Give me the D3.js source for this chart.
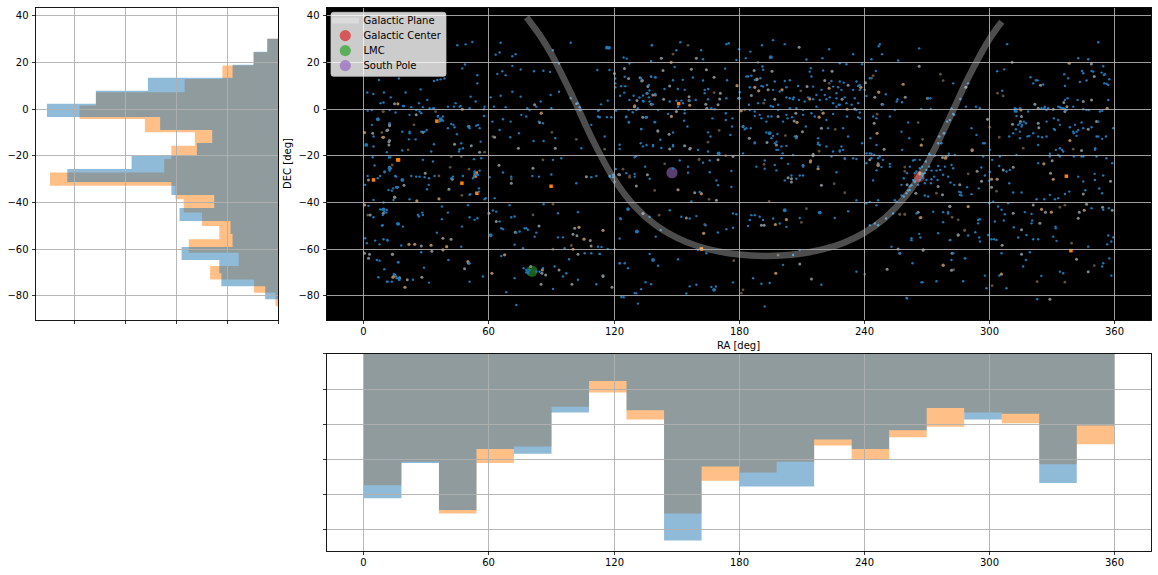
<!DOCTYPE html>
<html>
<head>
<meta charset="utf-8">
<script src="https://cdn.jsdelivr.net/npm/d3@7"></script>
<style>
  body { margin: 0; background: #fff; }
  text { font-family: "DejaVu Sans", sans-serif; font-size: 10px; }
</style>
</head>
<body>
<div id="graf"></div>
<script>
// RA histogram, 18 degree bins
const raBinWidth = 18
const raBlue = [123,93,133,81,85,50,23,48,159,96,113,113,73,81,65,46,56,51,110,61]
const raOrange = [112,92,136,93,79,45,33,56,136,108,101,92,78,90,71,62,50,59,94,77]

// DEC histogram, top bin first
const decBlueRange = [30.2, -81.4]
const decOrangeRange = [30.2, -84.4]
const decBlue = [11,24,45,128,179,227,116,65,80,144,207,105,63,97,47,45,95,58,56,13]
const decOrange = [11,25,55,92,179,195,131,82,105,112,224,101,93,75,58,88,39,67,24,3]

const raTicks = [0,60,120,180,240,300,360]
const decTicks = [40,20,0,-20,-40,-60,-80]
const decCountTicks = [0,50,100,150,200]
const raCountTicks = [0,30,60,90,120,150]

// Galactic plane
const planeRa = [78,85,90,100,110,120,130,140,150,160,170,180,192,200,210,220,230,240,250,260,270,280,290,300,306]
const planeDec = [39.4,30.9,23.5,5.6,-13.6,-29.9,-41.7,-49.7,-55,-58.6,-60.9,-62.3,-62.9,-62.7,-61.8,-60.1,-57.3,-53,-46.6,-37.2,-23.5,-5.6,13.6,29.9,37.5]

const markerNames = ["Galactic Center","LMC","South Pole"]
const markerRa = [266.4,80.6,147.8]
const markerDec = [-28.9,-69.4,-27.2]
const markerColors = ["#d62728","#2ca02c","#9467bd"]

// Sources, [ra, dec]
const bluePoints = [
[266.4,26.1],[308.6,27.9],[352.3,28.7],[342.7,21.9],[347.5,21.4],[354.7,18.4],[344.5,16.4],[349.1,16.4],[353.9,15.7],[355.5,15],[357.6,12.9],[343.5,11.7],[346.7,12.3],[336,15],[337.9,13.3],[336.3,10],[307.2,17.1],[303.8,16.3],[319.8,13.7],[322.4,12.4],[323.2,12.3],[321.1,11.1],[325.9,10.6],[356.3,10.9],[355.2,11.1],[306.2,7.9],[282.7,11.1],[289.9,11.1],[286.1,4.4],[288.8,1.1],[293.6,1.1],[295.5,.4],[281.9,.3],[267.4,.1],[272,.1],[270.7,4.7],[271.8,4.7],[258.2,3],[312.3,.4],[313.1,0],[314.7,.4],[318.7,-1],[325.1,.4],[326.4,.4],[327.5,-.3],[333.9,.9],[335.5,.4],[337.1,-.3],[345.1,0],[347.8,-.3],[353.1,-1],[354.2,-.7],[357.1,4],[342.4,4],[337.6,4.7],
[312.3,-1],[313.1,-2.9],[316.6,-5.3],[313.9,-6.7],[315.8,-6.7],[317.6,-6],[318.4,-11.7],[314.7,-9.6],[311.5,-10.3],[312.8,-8.6],[327.5,-5.3],[331,-3.9],[333.1,-4.6],[333.9,-6.7],[338.7,-7.7],[341.1,-6.7],[344.3,-5.7],[349.1,-7.7],[352.3,-5.3],[359.5,-8.1],[341.9,-9.6],[340.6,-10.3],[352.3,-11.7],[354.2,-12.7],[356,-11.7],[350.9,-16.7],[333.9,-16.7],[323.5,-15.3],[329.1,-19.1],[333.1,-19.6],[335.5,-18.1],[344.3,-20.3],[340.6,-20.3],[323.5,-23.1],[356.2,-21],[359,-23.1],[309.6,-11.7],[319.2,-11.4],[325.4,-12],[331,-8.4],[297.1,-14.6],[278.2,-10.3],[279.8,-5.3],[282.7,-2],[275.5,-14.6],[271.2,-19.1],[261.1,-5.7],[257.9,-9.6],[261.6,-12.4],[258.2,-17.4],[283.5,-19.6],[280.3,-19.9],
[304.8,-24.3],[301.4,-21.7],[309.9,-26],[308.3,-26.7],[296.2,-25],[300.3,-26.9],[297.9,-28.4],[300,-30.6],[309.6,-31.7],[295,-33.9],[291.5,-36.4],[289.4,-33.4],[285.6,-35.4],[286.7,-37],[283.2,-32.4],[281.4,-31.4],[277.9,-28.1],[274.7,-26.3],[275.5,-24.3],[272.3,-26.3],[271.2,-24.6],[269.9,-26],[266.7,-25.3],[264.3,-21.7],[268.3,-29.6],[269.9,-30.3],[272.3,-30],[269.1,-37],[270.7,-37.4],[261.9,-34.6],[311.5,-35.7],[315.5,-35.7],[322.7,-38.6],[326.4,-38.6],[329.1,-36.7],[336.3,-36.3],[346.1,-34.7],[350.6,-27.7],[352.8,-34],[354.2,-36],[345.1,-31],[342.7,-28.9],[338.4,-35.3],[333.1,-38.1],[331.5,-38.6],[354.7,-28.4],[350.7,-30.3],[301.9,-39.6],[300,-40.3],[264.3,-27.4],
[304.3,-41.7],[309.1,-40.3],[305.9,-43.1],[307.5,-45],[317.1,-44.1],[320.3,-44.9],[349.1,-42.4],[354.7,-43.1],[357.4,-42.4],[302.7,-48.1],[307,-47.7],[294.7,-48.9],[295.5,-47.1],[280.3,-44.1],[277.9,-44.1],[273.1,-43.9],[277.9,-48.4],[311.8,-50.6],[313.9,-55],[317.9,-53.9],[320.3,-48.9],[320.6,-47.7],[331.8,-50.3],[331.9,-51],[330.7,-54.6],[332.3,-56.4],[347.5,-58.9],[357.1,-54.1],[359.5,-54.9],[358.6,-56.7],[356.6,-57.9],[301.1,-55.7],[302.4,-55.7],[303.5,-56],[289.9,-54.1],[293.3,-52.7],[295.2,-55],[295.5,-56.7],[281.4,-56],[275.5,-53.1],[266.4,-53.4],[267,-55],[262.7,-55.3],[321.1,-55.7],[323.5,-55.7],
[305.9,-61.7],[319.5,-61.3],[317.6,-64.6],[316.3,-67.4],[325,-71.4],[333.9,-69.6],[335.5,-70.3],[354.2,-67.4],[354.7,-66],[357.6,-63.9],[358.6,-71.3],[260.6,-81.1],[323,-81.4],[288.5,-63.9],[263.2,-66],[267.5,-74.2],[274.7,-73.7],[287.5,-73.7],[297.9,-71.3],[298.7,-76.7],[308.3,-76.7],[257.1,-61.7],[281.9,-64.6],
[138.2,27.4],[151.8,28.7],[173.9,27.9],[175,28.3],[191,27.4],[196.3,29.6],[201.9,27.9],[223.2,25.7],[247.5,27.9],[247,27],[234.7,23.6],[248.6,23.6],[149.9,25.3],[161.8,25.3],[180,25.7],[185.4,24.7],[162.7,21.4],[178.7,21.1],[183.2,21.9],[212.3,21.3],[220,21.9],[239,19.3],[243.5,21.4],[256.3,20.9],[149.1,18.1],[173.3,17.4],[191.2,18.3],[214.4,17.6],[220.3,16.6],[228.3,19.7],[231.5,19.3],[245.6,16.4],[132.8,13.3],[137.7,14],[139.8,13.7],[148.3,12.4],[153,12.6],[157.8,13.6],[162.7,12.3],[174.2,12.4],[184.3,14],[185.9,14.4],[191.5,16.9],[201.9,12.1],[204.3,12.4],[213.9,16.1],[214.7,14],[224.3,12.1],[228.3,11.9],[230.2,11.4],[236.3,11.9],[242.7,13.3],[136.7,10.4],[144.2,8.7],[150.6,8.7],[165.2,8.7],[180.3,7.3],[185.1,9.4],[190.7,10],[193.4,10.4],[196.3,8.3],[202.7,9.4],[208.3,10],[215.5,9.7],[219.5,8.3],[227.5,9.4],[234.7,8.3],[237.1,10],[240.3,8.3],[133.9,5.9],[136.7,5.1],[139.8,6.6],[138.1,2.1],[134.2,3.3],[146.7,3.3],[149.9,3.7],[152.3,3.7],[156.3,3.7],[159.2,4],[153.9,-.3],[153.1,2.6],[150.7,1.1],[165.1,4.3],[163.5,8.3],[173.9,4.7],[166.7,.4],[168.3,0],[180.3,4.7],[184.7,1.9],[189.1,2.6],[192.3,4],[195.2,1.4],[198.7,1.9],[198.7,-.3],[202.7,5.1],[206.2,5.1],[213.1,5.1],[218.7,4],[221.9,4.3],[225.1,2.6],[227.8,1.9],[230.7,5.1],[237.1,2.6],[241.1,5.7],[249.1,2.1],[250.4,6.4],[256,4.3],[255.6,3.3],
[145.9,-2],[135.2,-3.4],[153.9,-1.7],[153.6,-4.9],[155.2,-7.4],[139.7,-5.6],[133.1,-8.6],[167.2,-3.9],[173.6,-1.7],[176.8,-3.9],[173.6,-4.6],[176.6,-7.4],[187.5,-2.9],[190.7,-3.9],[193.1,-5.3],[195.5,-3.1],[201.1,-5.3],[203.2,-3.9],[205.4,-3.4],[210.7,-2.4],[214.7,-1.7],[217.1,1.1],[221.9,-4.6],[225.1,-2],[231.8,-3.1],[237.1,-3.4],[237.9,-1.4],[245.9,-3.9],[252.3,-3.1],[254.7,-.3],[165.1,-9.9],[166.3,-11.7],[148.3,-10],[142.2,-13.1],[148.3,-15.3],[138.7,-15.3],[135.6,-15.3],[132.8,-14.6],[160.3,-17.4],[165.1,-18.1],[175.8,-11],[181.9,-7.4],[182.7,-8.6],[185.6,-8.1],[187.5,-14.6],[193.1,-10],[196.3,-11.4],[198.4,-10.6],[197.9,-13.9],[200.3,-16],[197.9,-17.4],[202.7,-15.7],[206.7,-11.7],[212,-7.4],[217.9,-14.3],[217.9,-15],[221.9,-16],[222.7,-8.1],[229.9,-8.1],[232.3,-11.7],[225.1,-18.1],[229.9,-17.4],[239,-14.6],[243,-12.4],[245.9,-15.3],[241.1,-18.9],[243.5,-21],[244.8,-19.6],[247.5,-20.3],[252.3,-23.4],[134.9,-24.6],[155.5,-24.6],[162.7,-22.9],[188.3,-24.6],[197.1,-23.9],[200.3,-21],[203.5,-23.4],[210.7,-23.9],[217.9,-24.6],[224.3,-20.3],[230.7,-21],[234.7,-21],[241.1,-23.1],
[18.7,1.4],[22.7,.9],[28.3,.9],[33.1,.3],[40.3,1.1],[44,2.6],[45.9,1.1],[50.7,.4],[57.9,1.1],[57.6,-2.9],[61.6,-5.3],[66.7,-4.3],[70.4,-5.3],[75.5,-2.4],[77.9,-3.1],[79.5,-.3],[82.7,1.1],[89.9,.4],[85.9,-6],[84,-5.3],[65.1,-8.9],[70.2,-12],[74.4,-10.3],[81.4,-13.6],[91.8,-12.4],[86.2,-13.6],[104.3,-16.7],[101.9,2.3],[103.5,-.3],[112.3,-.7],[113,-3.4],[118.7,-3.4],[125.9,-3.1],[127.2,-5.7],[130.7,-.3],[109.1,-6.7],[115.5,-11.7],[130.7,-20],[30.1,-8.9],[27.5,-9.6],[21.9,-9.6],[18.4,-9.6],[44.6,-10.7],[40.3,-8.1],[43.5,-7.7],[33.6,-15],[24.8,-12.9],[21.6,-12.9],[47.5,-16.7],[45.6,-18.1],[53.9,-7.1],[50.7,-8.1],[49.9,-7.4],[32.3,-18.1],[18.4,-17.7],[38,-4.9],[35.5,-3.1],[36.3,-5.3],[15.2,-1.4],[27.5,-1.7],[21.9,-2.4],[41.9,-6.3],[56,-13.9],
[12,-20.7],[28.3,-21.7],[33.1,-22.4],[52.8,-21.4],[56.3,-21],[9.9,-26.7],[15.5,-28.9],[22.7,-28.6],[25.1,-28.9],[29.1,-29.1],[33.9,-28.6],[42.7,-28.9],[47.5,-28.6],[53.1,-26.7],[53.9,-28.1],[52.8,-28.6],[60.3,-29.1],[15.5,-33.4],[30.3,-34.3],[31.1,-32.4],[41.9,-29.6],[21.9,-38.6],[51,-36.4],[55.2,-33.9],[57.9,-38.6],[62.7,-38.1],[66.7,-27.1],[70.7,-28.9],[80.8,-28.6],[84,-28.9],[89.9,-28],[94.7,-21],[90.7,-21.7],[109.1,-29.1],[111.5,-28.6],[117.9,-28.6],[125.9,-27.4],[120.8,-25.6],[101.9,-31.7],[58.4,-38.1],
[8.8,-43.1],[10.7,-44.3],[28,-44.3],[26.4,-46],[8.6,-49.9],[18.7,-50.3],[37.4,-41.7],[40.3,-44.3],[37.4,-47.1],[49.9,-41.1],[54.4,-46.7],[53.1,-47.4],[50.7,-46.3],[47,-50.3],[35,-52.9],[11.2,-56],[17.9,-58.4],[46.7,-58.9],[61.9,-43.4],[69.9,-41.1],[66.7,-51.4],[72.3,-46],[70.7,-46.3],[77.9,-51],[82.7,-52.9],[74.7,-52.4],[72.3,-58.1],[76.3,-59.6],[95.5,-54.9],[93.1,-54.9],[102.7,-44.1],[86.2,-40.7],[93.1,-44.6],[123,-46.7],[120.3,-60],[96.3,-59.6],[112.3,-58.9],
[27.5,-61.3],[40.5,-64.6],[16.3,-65.6],[28.8,-67.9],[50.7,-66],[57.1,-71.7],[31.2,-74.3],[50.7,-73.9],[14.4,-70.6],[15.5,-71.7],[16.8,-73.1],[11,-73.9],[23.5,-73.1],[65.9,-62.9],[72.3,-72.4],[77.9,-68.9],[78.7,-69.7],[76.6,-68.1],[82.7,-69.6],[85.9,-68.1],[95.5,-71.7],[97.1,-70.3],[91.5,-67.4],[98.4,-64.3],[105.9,-61.7],[109.1,-61.7],[113.1,-62],[111.5,-75],[102.7,-73.1],[122.7,-66],[126.7,-68.1],[124.6,-80.6],[90.7,-77],[68.3,-78.4],[73.1,-83.9],[130.7,-78.9],
[1.8,-.6],[3.8,-.3],[9.4,2.9],[4.6,-11.7],[3.8,-6.7],[4.6,-16],[11,-18.4],[4.2,-20.6],[5.1,-24.1],[1.8,-28.6],[.6,-32.4],[6.6,-29.6],[9.9,-27],[7.8,-28.6],[12.6,-20.6],[4.6,-38.9],[9.4,-40],[7.8,-42.9],[9.8,-43.9],[11,-43.2],[9.1,-45.3],[4.6,-46.3],[9,-49.7],[16.8,-49.2],[.6,-55.3],[1.4,-57.4],[5.4,-56.3],[7.5,-57.9],[9.4,-55.7],[11.4,-56.3],[6.2,-64.6],[7.5,-64.9],[16.6,-65.6],[9.8,-68.6],[6.9,-72],[11.4,-73.9],[13.4,-73.9],[16.6,-72.4],[14.2,-38.9],[11.8,-34.6],[13.4,-34.9],[15,-28.6],[2.2,-41.4],
[48.8,27.8],[52,28.8],[44.8,27.4],[65.6,28.5],[63.2,23.4],[65.1,24.3],[71.2,22.7],[72.8,23.6],[99.2,28.5],[90.7,25.3],[93.6,19.6],[89.3,16],[86.1,16.5],[81.6,16.3],[75.2,17],[71.2,18.6],[66.4,16.3],[68,14.6],[64,15.1],[54.4,14.6],[47.2,17.5],[48.5,19.2],[38.7,13.2],[36.8,12.8],[35.2,12.5],[33.6,12.1],[16.8,13.2],[7.2,12.5],[1.6,7.2],[4.5,6.5],[27.2,8.5],[20,7.2],[9.6,7.2],[12.9,5.1],[8,2.6],[19.2,1.4],[26.4,2.6],[30.4,4],[33.6,.4],[43.2,1.1],[46.4,1.4],[51.2,5.4],[54.4,11.1],[53.6,3.3],[57.6,0],[62.4,1.1],[68,.9],[60.8,5.1],[65.6,5.8],[71.2,7.5],[75.2,5.4],[78.4,.4],[84.8,3.3],[89.6,6.1],[93.6,7.5],[99.2,4.7],[102.4,2.6],[104,-.3],[112.8,-.3],[112,16.8],
[138.1,27.4],[137.8,20.7],[124.6,22.2],[126.1,21.7],[127.4,19.6],[117.8,16.8],[125.1,13.9],[120.6,13.2],[120.6,11.1],[120.6,9.4],[123.4,9.9],[125.4,9.9],[124.9,7.1],[122.9,5.8],[127.4,4],[129.4,5.8],[132.2,5],[133.8,3.6],[137,8],[137.8,13.9],[139.9,13.6],[113.8,2.1],[117,3.7],[131.4,.4],[127,-.3],[129,-1.3],[121,-.6],[125.8,-3.4],[127,-5.5],[116.6,-3.4],[113,-3.4],[133,-8.4],[139.4,-5.5],[135.7,-3.4],[137,3.3],[138.6,2.1],
[122.7,-15.2],[122.7,-17],[133.9,-15.9],[138.7,-15.9],[142.7,-16.6],[148.3,-15.9],[151.5,-22],[155.5,-27.2],[176.3,-26.5],[176.3,-33.3],[170.4,-19.1],[165.9,-22],[129.9,-20.6],[119.5,-29.1],[120.3,-31.2],[137.1,-46.1],[123.2,-47.1],[130.7,-52.5],[122.7,-55.4],[142.4,-51.8],[140,-54.6],[157.1,-39.5],[146.7,-43.3],[152.3,-46.1],[156.3,-46.8],[159.5,-45.8],[163.9,-49.7],[169.8,-52.8],[173.9,-51.4],[177.1,-50.8],[178.7,-45],[184.3,-50],[187.5,-45.4],[185.1,-47.5],[191.5,-47.5],[196.3,-46.8],[199.5,-49],[202.7,-50.4],[209.1,-46.6],[232.3,-43.7],[225.9,-46.6],[241.1,-40.4],[245.9,-41.2],[254.7,-39],[242.7,-49.7],[246.7,-49.7],[245.1,-49],[250.5,-46.8],[253.9,-44.7],[265.1,-44.7],[280.3,-44.7],[294.7,-47.5],[299.5,-53.9],[281.1,-56.1],[262.7,-56.1],[253.1,-58.9],[288.3,-63.9],[282.7,-61.7],[304.8,-71.3],[240.3,-70.7],[236.3,-69.6],[209.1,-60.3],[205.9,-62.5],[201.1,-66.7],[164.3,-61.7],[160.3,-60.3],[117,-59.9],[114,-59],[113.1,-62],[122.7,-66],[125.1,-66],[141.1,-67.1],[137.1,-62],[150.7,-64.3],[129.9,-78.8],[133,-77.1],[135.1,-74.1],[137.8,-75],[131.5,-83.3],[123.5,-80.5],[154.7,-79],[156.3,-75.9],[159.5,-75.2],[166.7,-76.2],[168.9,-76],[177.1,-74.2],[192.3,-84.5],[190.7,-74.8],[194.7,-74.5],[186.7,-72.4],[219.5,-75.2],[260.3,-80.9],[268,-74.1],
[260.3,-36],[259,-37.4],[261.9,-33.1],[263.5,-30.3],[264.3,-31],[265.9,-32.4],[266.9,-30.3],[268,-28.6],[269.1,-27.4],[267.7,-24.6],[269.6,-22.4],[266.7,-21.7],[263.5,-22],[261.9,-24.6],[260.6,-27.4],[259,-29.6],[257.9,-32.4],[272,-31.7],[273.6,-28.9],[275.2,-30.3],[276.5,-26],[278.7,-24.6],[280.6,-19.1],[282.7,-25.3],[281.9,-23.9],[280.3,-28.9],[285.9,-36.7],[286.4,-35.7],[273.9,-19.9],[271.5,-19.6],[277.1,-14.6],[278.4,-10.3],[281.1,-4.6],[283.2,-2.4],[276,-11.7],[269.1,-31.7],[265.1,-26.7],
[326.7,1.1],[328.3,.4],[333.1,1.1],[334.7,.4],[336.3,.1],[314.7,-6],[315.5,-7.4],[312.3,-.3],[313.1,-1],[340.3,-9.6],[342.7,-8.9],[345.1,-8.1],[341.9,-11.4],[351.5,-11.7],[331.5,-8.9],[332,-17.4],[334.9,-17.4],[323.5,-11.7],[327.5,-11.7],[333.9,-20.3],[329.1,-20.3],[350.7,-17.4],[351.5,-20.3],[345.1,-20.3],[321.1,-10.3],[314.7,-12.4],[313.1,-19.6],[305.1,-20.3],[297.9,-14.6],[293.9,-11],[291.5,-8.1],[297.1,-20.3],[300.3,-17.4],[345.1,15.4],[349.9,16.1],[355,14.7],[357.1,10.4],[336.3,4],[340.3,1.1],[346.7,-.3],
[183.5,14],[187.5,12.6],[190.2,13.3],[191.5,9.7],[197.1,11.9],[199.5,7.6],[204.3,4.7],[205.9,4.3],[208.7,4],[211.5,3.3],[215.5,4.3],[217.1,6.1],[221.1,6.1],[223.5,5.1],[226.7,4.7],[228.3,1.9],[231.5,2.6],[234,1.9],[235.5,4.7],[237.9,8.3],[237.9,10.4],[229.1,8.3],[226.7,6.9],[225.1,9.7],[185.1,-.3],[187.5,-1],[189.9,-2.4],[193.9,-3.1],[196.3,1.1],[202.7,-2.4],[204.3,.4],[207.5,.4],[210.7,-.3],[216.3,-3.1],[219.5,-.3],[226.7,1.1],[236.3,-.3],[237.9,-3.9],[244.3,-3.1],[183.5,-8.1],[195.5,-12.4],[197.1,-14.6],[198.7,-17.4],[200.9,-18.9],[207.5,-12.4],[217.9,-12.4],[218.7,-15.3],[228.3,-18.1],[229.1,-16],[242.7,-18.9],[246.7,-21],[249,-21.7],[252.3,-24.6],[181.9,-18.9],[205.9,-19.6],[210.7,-24.6],[141.1,-.3],[136,6.9],[163.5,6.9],[153.9,8.3],
[25.1,-.3],[26.7,-1],[31.5,.4],[35.5,-2.9],[37.9,-3.1],[29.1,-9.6],[21.9,-10.3],[12.3,-.3],[12.3,-6],[54.7,-6.7],[55.5,-8.1],[43,-6.7],[46.7,-14.6],[45.9,-17.1],[53.1,-27.4],[54.7,-28.1],[52.3,-29.6],[55.5,-26.3],[26.7,-28.9],[31.2,-29.6],[12.3,-26.3],[14,-33.9],[16.3,-33.4],[50.7,-36.7],[55.2,-35.3],[28.3,-45.3],[25.9,-45.3],[77.1,-51],[78.7,-51.7],[73.1,-52.9],[78.7,-70.3],[79.5,-68.9],[77.9,-69.9],[84.3,-69.6],[15,-71],[15.7,-72.4],[17.1,-73.1],[63.5,-43.9],[65.1,-48.1],[65.9,-51],[81.9,-54.6],[117.9,-28.9],[119.5,-28.1],[129.9,-28.9],[112.3,-3.1],[103.5,.9],
[205.1,-28.4],[207.5,-29.8],[209.1,-28.4],[210.7,-28.4],[201.9,-30.5],[197.9,-26.2],[192.3,-22],[192.3,-25.5],[187.5,-14.2],[228.3,-17.7],[230.7,-21.3],[226.7,-27],[236.3,-21.3],[243.5,-19.1],[245.9,-26.2],[248.3,-24.8],[244.3,-30.5],[236.3,-39],[242.7,-39.7],[246.7,-39],[255.5,-39.7],[257.9,-36.9],[261.1,-34.8],[262.7,-32.6],[264.3,-31.2],[268.3,-27.7],[185.9,-45.4],[189.9,-46.1],[177.1,-44.7],[148.3,-25.5],[137.1,-29.8],[129.9,-27.7],[165.9,-27],[169.1,-30.5],[169.9,-32.6],[161.1,-35.5]
]
const bigBluePoints = [[18.4,-30.3],[12.3,-25.3],[9.4,-42.9],[16.3,-49.1],[60.8,-54],[126.7,-42.8],[131,-52.4],[117.6,26.3],[116.6,26.4],[195.2,22.3],[218.7,-44.3],[138.7,-64.6],[168,-77.4],[170.2,-18.9],[194.7,-10.3],[6.7,-4.3],[1.1,-15.3],[36.8,-4.3],[201.9,-43.3]]
const greyPoints = [
[349,19.4],[311,20.1],[350.4,14],[324.6,10.3],[288.8,9.4],[266.4,18.4],[259.7,5.1],[270.4,4.7],[321.9,2.1],[323.5,.4],[330.7,0],[335.8,2.9],[345.1,3.3],[349.1,4],[337.3,1.1],[336.3,-1],[299.2,-4.3],[311.2,-6.4],[315.5,-3.1],[315,-5.3],[323.5,-6],[323.8,-7.9],[351.5,-5.3],[347.5,-8.6],[344.3,-17.7],[277.6,-20.7],[306.7,-26],[311.5,-24.9],[294.2,-26.6],[296.3,-30.9],[301.1,-33.4],[285.9,-32.4],[275.5,-33.1],[277.6,-36.7],[264.8,-36],[260.6,-32.4],[330.2,-22.1],[329.4,-27.4],[358.2,-30.9],[345.1,-36.3],[281.1,-41.7],[321.1,-41],[327,-44.1],[311.5,-44.6],[343.2,-44.1],[346.7,-40.7],[354.4,-42],[359,-43.3],[315.5,-51.7],[324.3,-48.9],[342.7,-46.7],[306.2,-58.3],[285.1,-53.9],[268.3,-60.3],[282.2,-61.7],[281.9,-69],[315.5,-62.1],[347.5,-69.6],[341.9,-64.3],[329.1,-81.4],[265.9,-44.1],
[142.7,21.9],[159.5,21.9],[208.8,26.6],[164.3,16.9],[157.1,17.1],[143.5,16.6],[133.6,12.3],[146.7,10],[168,13.7],[171,6.9],[170.7,4.4],[156,5.4],[156,3.7],[143.8,4.3],[139.8,6.1],[164,2.1],[164.5,.4],[169.9,1.9],[179.8,4.7],[149.9,-1],[187.2,16.6],[195.8,16.3],[188.3,12.6],[193.9,8.3],[185.9,5.9],[197.1,4.3],[212.6,9.7],[221.1,12.3],[224.6,16.3],[232.3,10.3],[240.6,11.4],[229.4,4.3],[235.5,.1],[248.6,2.1],[245.1,5.1],[198.7,-3.1],[206.4,-5],[207.2,-1.7],[181.9,-7.4],[184.9,-12.4],[193.4,-14.3],[197.9,-15.3],[207.5,-11.7],[210.4,-9.6],[215.5,-19.3],[177.1,-20.3],[169.9,-21.7],[156.6,-16.7],[153.9,-15.6],[146.4,-10.7],[219.5,-8.1],[244.8,-6],[249.6,-17.1],[242.7,-21.7],[135.5,-3.4],
[14.7,2.3],[12.3,-6.7],[11,-9.1],[12,-13.9],[12,-15.3],[25.1,-2.4],[28.3,-9.9],[43.5,-15],[51.5,-15.6],[55.5,-18.4],[50.4,-7.4],[62.7,-12],[74.1,-16.7],[91.8,-16.7],[81.9,1.9],[84.3,-5.7],[12.3,-24.9],[29.4,-27.4],[42.4,-30],[40.8,-34.3],[19.2,-32.6],[14.8,-37.7],[64.8,-24],[81.1,-25.3],[70.7,-31.7],[106.7,-28.9],[122.2,-28],[9.3,-44.6],[60,-44.6],[63.5,-48.1],[84,-50],[72.6,-52.7],[101.1,-51],[100.3,-53.6],[102.2,-54.2],[108.6,-56.3],[109,-58.6],[37.9,-55.3],[41.8,-55.7],[27.5,-58.6],[32.6,-60.9],[102.7,-62.1],[48.3,-68.4],[50.2,-66],[27.8,-72],[20.8,-73.1],[17.1,-72.2],[80,-67.4],[85.4,-70.3],[87.2,-71],[93.6,-68.9],[85,-75],[99.8,-75],[114.7,-71.7],[13.6,-62.1],[119,-76.3],
[4.2,-10.3],[11.5,-8.9],[12.3,-7.1],[12.3,-13.4],[2.2,-30.3],[15.8,-33.4],[.3,-61.7],[2.7,-62.2],[2.2,-63.9],[13.8,-62.2],[12.6,-25.3],[3,-45.3],
[125,17.5],[120.2,15.3],[127,13.2],[132.5,13.5],[133.3,12.1],[136.2,9.7],[135.8,6.8],[138.6,6.1],[131,3.7],[137.8,2.1],[133.8,-3.4],[141,-9.2],
[130.7,-32.9],[122.7,-28.1],[136,-28.1],[146.7,-17],[156.3,-17],[158.7,-35.8],[169.1,-39],[133.9,-44.7],[154.7,-46.6],[190.7,-49.7],[192,-49.7],[205.1,-29.8],[203.5,-29.4],[205.1,-31.2],[219.5,-32.6],[210.7,-24.1],[215.5,-19.9],[246.7,-23.4],[114.7,-71.4],[214.7,-72.8],[209.1,-66.3],[251,-68.6],[256.3,-59.9],[257.1,-61.7],[268.3,-60.3],[285.1,-53.9],[281.1,-41.6]
]
const tanPoints = [
[338.4,19.7],[338.7,-13.4],[258.7,10.7],[291.8,-17.4],[279.2,-20.6],[266.7,-27.4],[301.1,-30],[303.8,-30],[330.7,-30],[326.2,-23.4],[315.2,-.3],[356.6,.4],[325.1,-42.9],[329.8,-44.1],[345.6,-43.3],[305.8,-70.7],[277.9,-66.9],[267.2,-46.4],[289.9,-41.7],[267.4,-15.4],
[147.4,20.1],[181,-.7],[187.5,9.4],[189.4,7.9],[200.6,8.3],[213.9,4.4],[220.3,-1.7],[223.2,9],[231.8,0],[207.8,-5.6],[218.4,-3.4],[214.3,-22.1],[147.5,-3.1],[246.7,-23.9],[156.3,1.7],[179,10.1],[188.6,12.9],[238.4,9.4],[247,7.3],[246.2,-10.3],
[37.1,-4.6],[47.2,0],[85.1,-1.7],[129.9,1.4],[16.3,2.3],[9.1,-12],[36,-38.4],[25.4,-39.3],[21.6,-57.9],[24.4,-57.9],[32.2,-58.3],[37.9,-60.3],[39.7,-58.9],[61.4,-70.3],[13.9,-72],[19.7,-76.3],[49.9,-65.3],[85.6,-68.9],[100.3,-60],[105.6,-55.7],[103.2,-50.6],[114.7,-51.9],[67.5,-62.4],
[.3,-10],[9.4,-12],[.3,-41],[14.7,-37.7],[14.2,-71.7],[129.8,1.1],
[150.7,-34.5],[161.9,-36.2],[163,-53.2],[202.7,-47.3],[197.4,-49.4],[197.6,-70.3],[214.2,-22.6],[217.9,-25.5],[246.7,-24.1],[279,-21],[291.8,-17.7],[266.7,-27.7]
]
const orangePoints = [[151,2.4],[35,-5.1],[16.2,-21.7],[53.4,-28.6],[53.9,-27.4],[47,-31.7],[54.2,-36],[89.8,-33],[4.6,-30.3],[16.6,-21.7],[161.9,-59.9],[337,-28.7],[339.2,-60.6]]
const faintPoints = [
[276.6,15],[277.9,12.3],[304,6.9],[306.7,5.7],[265.9,-5.7],[268,-12.9],[300.3,-7.7],[304.8,-12],[316.3,-16.7],[340.3,-17.1],[259.5,-26.6],[289.9,-27.7],[303.5,-35.1],[274.7,-36],[259.5,-45],[257.1,-45],[282.2,-46.3],[285.1,-47.4],[288.2,-52],[339.5,-57.4],[301.4,-75.6],[323,-73.9],[336.3,-74.1],[350.4,-67],[333.9,-42],[336.3,-41.1],
[155.5,27.4],[148.3,23.6],[189.1,20.1],[223.2,11.1],[209.6,7.9],[168,7.1],[191.8,2.6],[182.7,-.3],[246.2,-2.1],[141.1,-9.6],[170.4,-9.1],[202.2,-11.3],[226.1,-8.6],[218.4,-18],[165.1,-14.1],[160.8,-21.4],[173.6,-19.9],[192,-23.6],[244.3,14.4],[243.5,13.3],
[34.4,-1],[9.1,-1],[24,-6.7],[21.2,-17.4],[57.9,-18.4],[13.6,-23.9],[36,-28.6],[41.4,-24.9],[50.4,-25.7],[46.7,-20.3],[41.9,-20.3],[47,-36.9],[70.7,-29.9],[85.9,-21.7],[124.3,-25.7],[127.5,-28.6],[81.1,-45.3],[90.7,-40.7],[90.7,-60],[99.5,-58.4],[101.9,-12.9],[61.9,-11.7],[115.5,-17.1],[90.2,-9.9],[8.6,-10],[1.9,-45.4],[9.4,-1],
[141.6,-45.4],[163.5,-49.4],[177.4,-64.9],[198.7,-62.5],[181.9,-77.4],[181.1,-78.8],[194.4,-39.5],[212.3,-42.6],[209.9,-48.5],[288.3,-51.8],[277.9,-66.7],[282.9,-68.8],[139.5,-34.8],[144.3,-23.4],[127.5,-29.1],[160.8,-21.7],[165.6,-38.6],[225.6,-31.9],[230.7,-35.8],[259.5,-24.8],[257.1,-45.1],[259.5,-45.1],[266.7,-46.6]
]

const draw = () => {
  const blue = "#1f77b4"
  const orange = "#ff7f0e"
  const gridColor = "#b0b0b0"
  const snap = (v) => Math.floor(v) + 0.5
  const fmt = (d) => String(d).replace("-", "\u2212")

  const svg = d3.select("#graf").append("svg")
    .attr("width", 1158).attr("height", 575)
    .style("display", "block")

  // Escaladores
  const xRa = d3.scaleLinear().domain([-18, 378]).range([326.4, 1151.8])
  const yDec = d3.scaleLinear().domain([-90.5, 43.6]).range([320.4, 7.5])
  const xCount = d3.scaleLinear().domain([238.2, 0]).range([35.5, 278.5])
  const yCount = d3.scaleLinear().domain([0, 168.4]).range([353.9, 551.5])

  const frames = {
    left: { x0: 35.5, x1: 278.5, y0: 7.5, y1: 320.5 },
    main: { x0: 326.5, x1: 1151.5, y0: 7.5, y1: 320.5 },
    bottom: { x0: 326.5, x1: 1151.5, y0: 353.5, y1: 551.5 },
  }

  svg.append("clipPath").attr("id", "clip-main").append("rect")
    .attr("x", frames.main.x0).attr("y", frames.main.y0)
    .attr("width", frames.main.x1 - frames.main.x0)
    .attr("height", frames.main.y1 - frames.main.y0)

  const grid = (f, xs, ys, xScale, yScale) => {
    const g = svg.append("g").attr("stroke", gridColor).attr("stroke-width", 0.9)
    g.selectAll(".gx").data(xs).join("line").attr("class", "gx")
      .attr("x1", (d) => snap(xScale(d))).attr("x2", (d) => snap(xScale(d)))
      .attr("y1", f.y0).attr("y2", f.y1)
    g.selectAll(".gy").data(ys).join("line").attr("class", "gy")
      .attr("y1", (d) => snap(yScale(d))).attr("y2", (d) => snap(yScale(d)))
      .attr("x1", f.x0).attr("x2", f.x1)
  }

  const axes = (f, xs, ys, xScale, yScale, showX, showY) => {
    const ax = d3.axisBottom(xScale).tickValues(xs).tickSize(3.5).tickPadding(3.5).offset(0)
      .tickFormat(showX ? fmt : "")
    const ay = d3.axisLeft(yScale).tickValues(ys).tickSize(3.5).tickPadding(3.5).offset(0)
      .tickFormat(showY ? fmt : "")
    const gx = svg.append("g").attr("transform", `translate(0,${f.y1})`).call(ax)
    const gy = svg.append("g").attr("transform", `translate(${f.x0},0)`).call(ay)
    gx.select(".domain").remove()
    gy.select(".domain").remove()
    gx.selectAll(".tick").attr("transform", (d) => `translate(${snap(xScale(d))},0)`)
    gy.selectAll(".tick").attr("transform", (d) => `translate(0,${snap(yScale(d))})`)
    svg.selectAll("g.tick text").style("font-size", "10px")
    svg.selectAll("g.tick line").attr("stroke-width", 0.8)
    svg.append("rect")
      .attr("x", f.x0).attr("y", f.y0)
      .attr("width", f.x1 - f.x0).attr("height", f.y1 - f.y0)
      .attr("fill", "none").attr("stroke", "#000").attr("stroke-width", 0.9)
  }

  // Histogramas escalonados
  const edges = (range, n) => d3.range(n + 1).map((i) => range[0] + ((range[1] - range[0]) * i) / n)
  const stepPoints = (values, e) => {
    const pts = [[0, e[0]]]
    values.forEach((v, i) => { pts.push([v, e[i]]); pts.push([v, e[i + 1]]) })
    pts.push([0, e[values.length]])
    return pts
  }

  const decLine = d3.line().x((d) => xCount(d[0])).y((d) => yDec(d[1]))
  const raLine = d3.line().x((d) => xRa(d[1])).y((d) => yCount(d[0]))
  const raEdges = d3.range(raBlue.length + 1).map((i) => i * raBinWidth)

  svg.append("path").attr("d", decLine(stepPoints(decOrange, edges(decOrangeRange, decOrange.length))))
    .attr("fill", orange).attr("fill-opacity", 0.5)
  svg.append("path").attr("d", decLine(stepPoints(decBlue, edges(decBlueRange, decBlue.length))))
    .attr("fill", blue).attr("fill-opacity", 0.5)
  svg.append("path").attr("d", raLine(stepPoints(raOrange, raEdges)))
    .attr("fill", orange).attr("fill-opacity", 0.5)
  svg.append("path").attr("d", raLine(stepPoints(raBlue, raEdges)))
    .attr("fill", blue).attr("fill-opacity", 0.5)

  grid(frames.left, decCountTicks, decTicks, xCount, yDec)
  grid(frames.bottom, raTicks, raCountTicks, xRa, yCount)

  // Panel principal
  svg.append("rect")
    .attr("x", frames.main.x0).attr("y", frames.main.y0)
    .attr("width", frames.main.x1 - frames.main.x0)
    .attr("height", frames.main.y1 - frames.main.y0)
    .attr("fill", "#000")

  const sky = svg.append("g").attr("clip-path", "url(#clip-main)")

  // Marcadores debajo de los puntos
  sky.append("g").selectAll("circle").data(markerNames).join("circle")
    .attr("cx", (d, i) => xRa(markerRa[i])).attr("cy", (d, i) => yDec(markerDec[i]))
    .attr("r", 5.6).attr("fill", (d, i) => markerColors[i]).attr("fill-opacity", 0.6)

  const dots = (data, color, r) => {
    sky.append("g").selectAll("circle").data(data).join("circle")
      .attr("cx", (d) => xRa(d[0])).attr("cy", (d) => yDec(d[1]))
      .attr("r", r).attr("fill", color)
  }
  dots(faintPoints, "#5f4f40", 1.4)
  dots(tanPoints, "#a8835a", 1.6)
  sky.append("g").selectAll("rect").data(orangePoints).join("rect")
    .attr("x", (d) => xRa(d[0]) - 1.75).attr("y", (d) => yDec(d[1]) - 1.75)
    .attr("width", 3.5).attr("height", 3.5).attr("fill", orange)
  dots(greyPoints, "#7d888c", 1.5)
  dots(bluePoints, blue, 1.2)
  dots(bigBluePoints, blue, 1.9)

  grid(frames.main, raTicks, decTicks, xRa, yDec)

  // Plano galactico
  const planeLine = d3.line().x((d) => xRa(d)).y((d, i) => yDec(planeDec[i])).curve(d3.curveCatmullRom)
  sky.append("path").attr("d", planeLine(planeRa))
    .attr("fill", "none").attr("stroke", "#fff").attr("stroke-opacity", 0.3).attr("stroke-width", 6.5)

  // Ejes
  axes(frames.left, decCountTicks, decTicks, xCount, yDec, false, true)
  axes(frames.main, raTicks, decTicks, xRa, yDec, true, true)
  axes(frames.bottom, raTicks, raCountTicks, xRa, yCount, true, false)

  svg.append("text").attr("x", 738.5).attr("y", 348.5).attr("text-anchor", "middle").text("RA [deg]")
  svg.append("text").attr("transform", "translate(291,163.5) rotate(-90)").attr("text-anchor", "middle").text("DEC [deg]")

  // Leyenda
  const legend = svg.append("g").attr("transform", "translate(331,12.3)")
  legend.append("rect").attr("width", 115).attr("height", 64).attr("rx", 2.5)
    .attr("fill", "#fff").attr("fill-opacity", 0.8)
    .attr("stroke", "#ccc").attr("stroke-opacity", 0.8).attr("stroke-width", 0.9)
  legend.append("rect").attr("x", 1).attr("y", 5.2).attr("width", 27).attr("height", 6)
    .attr("fill", "#fff").attr("fill-opacity", 0.3)
  legend.append("text").attr("x", 32.5).attr("y", 12).attr("fill", "#000").text("Galactic Plane")
  markerNames.forEach((name, i) => {
    const yRow = 23.3 + i * 15
    legend.append("circle").attr("cx", 14.3).attr("cy", yRow).attr("r", 5.6)
      .attr("fill", markerColors[i]).attr("fill-opacity", 0.7)
    legend.append("text").attr("x", 32.5).attr("y", yRow + 3.7).attr("fill", "#000").text(name)
  })
}

draw()
</script>
</body>
</html>
